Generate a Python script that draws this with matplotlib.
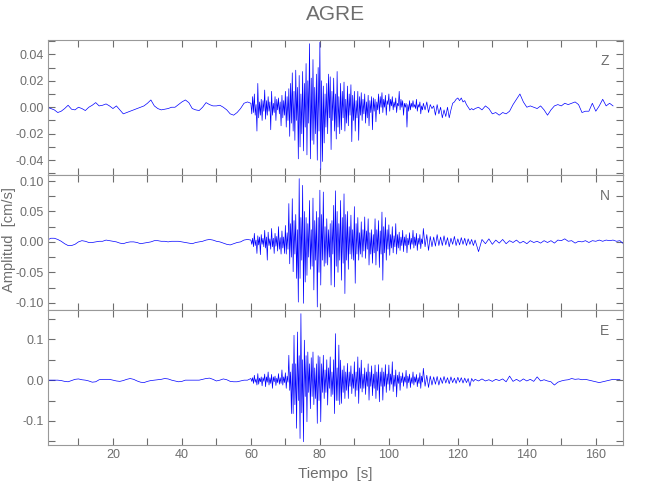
import numpy as np
import matplotlib
matplotlib.use("Agg")
import matplotlib.pyplot as plt
from matplotlib.ticker import MultipleLocator, FormatStrFormatter

# values, in units of 0.001 cm/s
# quiet: 1 s steps from t=1 s, strong: 0.25 s steps from t=60 s,
# late: 0.5 s steps from t=110 s, coda: 1 s steps from t=125 s
z_quiet = [0, -1, -2, -4, -3, -1, 1.5, -1.5, -2, 0,
           -1, -2.5, 0, 1.5, 3.5, 1, 1.5, 2.5, 1, -1,
           1, -2, -5, -4, -3, -2, -1, 0, 1, 3,
           5.5, 1, -1, -2, -1.5, -1, 0, 0, 2, 4,
           5.5, 3.5, -1, -2, -2.5, 0, 3.5, 2, 1, 1,
           1.5, 0, -2, -5, -6, -4, -1, 3, 4]
z_strong = [3, -5, 8, -4, 10, -6, 2, -18,
            18, -8, 4, -6, 6, -10, 5, -3,
            13, -9, 5, -6, 8, -3, 4, -17,
            12, -6, 3, -4, 8, -10, 6, -2,
            7, -5, 4, -14, 9, -8, 5, -6,
            12, -15, 8, -10, 14, -22, 18, -12,
            26, -18, 12, -25, 28, -10, 15, -39,
            24, -30, 10, -20, 27, -33, 18, -15,
            33, -36, 20, -12, 48, -39, 22, -25,
            36, -28, 15, -20, 25, -40, 30, -18,
            49, -47, 20, -41, 16, -27, 10, -15,
            18, -20, 25, -8, 23, -32, 12, -10,
            22, -18, 10, -24, 27, -15, 8, -20,
            18, -17, 12, -8, 19, -18, 6, -12,
            16, -14, 10, -6, 17, -26, 9, -10,
            12, -18, 5, -8, 12, -25, 8, -6,
            11, -10, 6, -5, 10, -12, 4, -8,
            9, -14, 5, -4, 8, -17, 7, -3,
            6, -11, 4, -2, 10, -5, 8, 0,
            11, -4, 6, 0, 9, -6, 5, 2,
            10, -3, 6, 1, 8, -2, 4, 0,
            7, -4, 3, 1, 12, -2, 6, 0,
            5, -6, 3, 0, 3, -15, 2, -3,
            5, -2, 3, 0, 5, 0, 2, -1,
            6, -3, 2, 0, 4, -5, 1, -2]
z_late = [3, -2, 4, -4, 2, -1, 1, -6, 2, -5,
          0, -8, -2, -7, 0, -8, -2, 3, 4, 6,
          7, 5, 7, 4, 5, 2, 0, -2, -1, -2]
z_coda = [-1, 0, -2, 1, -1, -5, -4, -6, -4, -5,
          -3, 2, 6, 10, 4, 0, 1, 0, -1, 1,
          -2, -6, -2, 1, 2, 1, 3, 2, 3, 4,
          2, -4, -3, -3, 3, -3, 1, 6, 1, 3, 1]

n_quiet = [3, 6, 6, 4, 1, -3, -6, -6, -4, 0,
           2, 1, -1, -1, 0, 1, 1, 3, 2, 1,
           0, -2, -3, -1, 0, 0, -1, -3, -2, -1,
           0, 2, 2, 1, 1, 0, 1, 1, 1, 0,
           -1, -2, -3, -1, 0, 1, 3, 4, 3, 1,
           0, -2, -4, -5, -3, -1, 0, 3, 4]
n_strong = [3, -4, 6, -8, 14, -6, 3, -19,
            10, -5, 8, -21, 12, -4, 6, -8,
            19, -10, 8, -30, 16, -6, 5, -12,
            22, -8, 6, -19, 14, -7, 9, -15,
            25, -12, 7, -20, 18, -10, 8, -19,
            27, -20, 15, -12, 63, -36, 30, -25,
            71, -49, 35, -20, 45, -60, 20, -99,
            104, -60, 40, -30, 93, -101, 50, -66,
            40, -55, 30, -25, 68, -45, 20, -40,
            72, -79, 35, -30, 50, -107, 40, -50,
            85, -71, 45, -30, 82, -40, 25, -35,
            38, -38, 20, -25, 30, -71, 35, -20,
            60, -74, 84, -40, 50, -50, 30, -30,
            68, -63, 40, -35, 79, -85, 45, -30,
            50, -45, 25, -20, 44, -28, 20, -30,
            58, -68, 30, -20, 40, -30, 15, -20,
            33, -25, 20, -15, 41, -27, 18, -12,
            38, -38, 15, -20, 20, -35, 12, -18,
            38, -38, 20, -15, 35, -42, 18, -20,
            49, -63, 25, -18, 40, -30, 20, -12,
            28, -22, 12, -10, 25, -18, 10, -8,
            30, -20, 12, -10, 16, -14, 8, -6,
            19, -16, 8, -6, 12, -18, 6, -5,
            15, -12, 6, -4, 19, -10, 8, -6,
            14, -14, 6, -4, 12, -11, 5, -3]
n_late = [22, -8, 12, -14, 9, -8, 8, -7, 12, -6,
          8, -6, 10, -5, 7, -8, 6, -4, 9, -6,
          5, -5, 7, -4, 6, -6, 5, -4, 4, -6]
n_coda = [3, -16, 4, -3, 5, -4, 3, -2, 4, -3,
          2, -1, 3, -2, 1, -3, 2, -1, 1, -2,
          2, -1, 2, -2, 3, 2, 5, 1, 2, -2,
          1, 0, 2, -1, 2, 1, 3, 1, 3, 2,
          3, 1, 2, -3]

e_quiet = [0, 0, 0, 0, -1, -3, -4, -1, 2, 3,
           1, 0, -2, -5, -4, 1, 2, 2, 2, 0,
           -2, -3, -1, 2, 4, 2, -2, -5, -6, -3,
           -1, 0, 1, 2, 4, 3, 0, -2, -4, -3,
           0, 0, 0, 0, 0, 2, 4, 5, 2, -2,
           0, 3, 1, -3, -4, -4, -2, 0, 0]
e_strong = [4, -3, 6, -8, 12, -5, 3, -12,
            16, -10, 5, -4, 8, -14, 6, -3,
            15, -16, 8, -5, 20, -12, 6, -8,
            14, -20, 8, -4, 10, -13, 5, -6,
            16, -10, 6, -8, 25, -12, 8, -6,
            18, -20, 10, -5, 61, -25, 20, -82,
            40, -82, 110, -60, 40, -118, 118, -50,
            60, -143, 163, -80, 50, -151, 98, -40,
            60, -102, 69, -30, 40, -70, 55, -40,
            69, -60, 30, -45, 40, -106, 60, -50,
            57, -102, 40, -30, 61, -45, 25, -30,
            50, -61, 30, -20, 57, -40, 20, -35,
            50, -82, 114, -50, 30, -50, 86, -60,
            49, -57, 25, -30, 35, -45, 20, -25,
            41, -45, 20, -15, 35, -33, 15, -20,
            45, -40, 20, -25, 57, -57, 30, -20,
            49, -29, 15, -20, 30, -35, 20, -15,
            40, -49, 20, -15, 35, -38, 15, -20,
            37, -45, 20, -25, 38, -53, 20, -15,
            30, -49, 20, -15, 38, -30, 15, -10,
            37, -25, 15, -10, 45, -28, 12, -15,
            25, -41, 12, -8, 20, -25, 10, -6,
            18, -15, 8, -5, 24, -20, 10, -6,
            15, -18, 6, -8, 20, -12, 8, -5,
            14, -16, 6, -8, 18, -20, 10, -5]
e_late = [29, -15, 12, -18, 10, -12, 8, -10, 9, -12,
          6, -8, 9, -7, 6, -9, 8, -6, 5, -8,
          7, -5, 6, -7, 5, -6, 4, -15, 4, -3]
e_coda = [2, -2, 3, -2, 1, -3, 2, -1, 3, -4,
          10, -3, 2, -3, 3, -2, 2, -3, 8, -2,
          1, -2, -4, -12, -5, -2, 0, 1, 4, 2,
          3, 1, 2, 0, -2, -4, -6, -4, -2, 0,
          2, 1, 2]

components = ["Z", "N", "E"]
ylims = [(-0.0512, 0.0508), (-0.112, 0.110), (-0.159, 0.172)]
major_steps = [0.02, 0.05, 0.1]
formats = ["%.2f", "%.2f", "%.1f"]


def build_trace(quiet, strong, late, coda):
    t = np.concatenate([1 + np.arange(len(quiet)),
                        60 + 0.25 * np.arange(len(strong)),
                        110 + 0.5 * np.arange(len(late)),
                        125 + np.arange(len(coda))])
    v = np.array(quiet + strong + late + coda, dtype=float) / 1000.0
    return t, v


traces = [build_trace(z_quiet, z_strong, z_late, z_coda),
          build_trace(n_quiet, n_strong, n_late, n_coda),
          build_trace(e_quiet, e_strong, e_late, e_coda)]

gray = "#6e6e6e"
plt.rcParams["font.family"] = ["Liberation Sans", "DejaVu Sans"]

fig, axes = plt.subplots(3, 1, figsize=(6.5, 5), dpi=100, sharex=True)
fig.subplots_adjust(left=0.074, right=0.958, top=0.92, bottom=0.11, hspace=0)

for ax, comp, (t, v), yl, step, fmt in zip(axes, components, traces, ylims, major_steps, formats):
    ax.plot(t, v, color="#0000ff", lw=0.5)
    ax.set_xlim(1.2, 167.8)
    ax.set_ylim(*yl)
    ax.xaxis.set_major_locator(MultipleLocator(20))
    ax.xaxis.set_minor_locator(MultipleLocator(10))
    ax.yaxis.set_major_locator(MultipleLocator(step))
    ax.yaxis.set_minor_locator(MultipleLocator(step / 2))
    ax.yaxis.set_major_formatter(FormatStrFormatter(fmt))
    ax.tick_params(which="both", direction="in", top=True, right=True,
                   colors=gray, labelsize=9, width=0.8, length=5, pad=3)
    for sp in ax.spines.values():
        sp.set_color("#999999")
        sp.set_linewidth(0.8)
    ax.text(0.969, 0.845, comp, transform=ax.transAxes, ha="center",
            va="center", color=gray, fontsize=10)

axes[2].set_xlabel("Tiempo  [s]", color=gray, fontsize=11, labelpad=4)
fig.text(0.014, 0.52, "Amplitud  [cm/s]", rotation=90, ha="center",
         va="center", color=gray, fontsize=10.5)
fig.suptitle("AGRE", x=0.516, y=0.99, color=gray, fontsize=15)

fig.savefig("out.png", dpi=100)
